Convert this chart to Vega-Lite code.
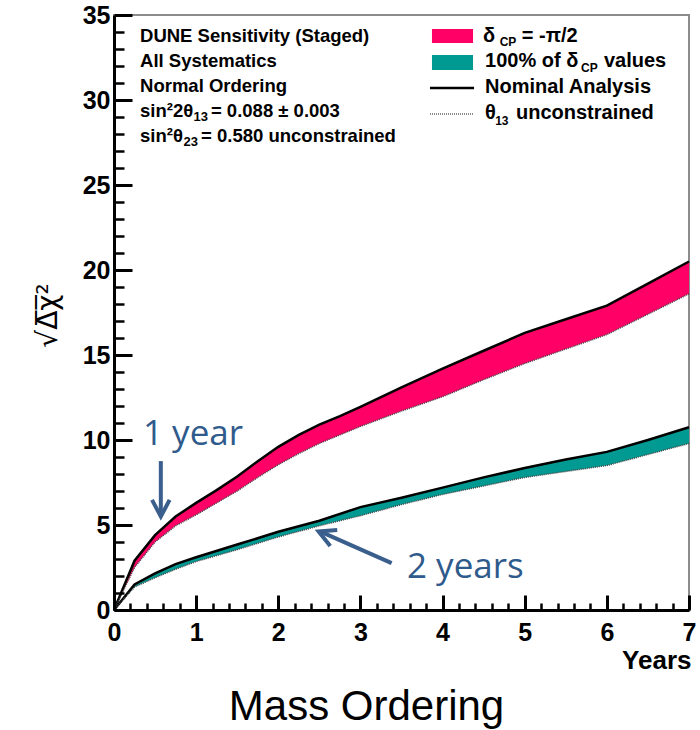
{
  "$schema": "https://vega.github.io/schema/vega-lite/v6.json",
  "width": 575,
  "height": 595,
  "autosize": {"type": "none"},
  "padding": {"left": 114, "top": 15, "right": 11, "bottom": 120},
  "background": "white",
  "config": {
    "view": {"stroke": "#8c8c8c", "strokeWidth": 2},
    "font": "Liberation Sans"
  },
  "title": {
    "text": "Mass Ordering",
    "orient": "bottom",
    "anchor": "middle",
    "dx": -35,
    "fontSize": 42,
    "fontWeight": "normal",
    "font": "Liberation Sans",
    "color": "black",
    "offset": 14
  },
  "datasets": {
    "curves": [
      {"year": 0, "band": "pink", "hi": 0, "lo": 0},
      {"year": 0.25, "band": "pink", "hi": 2.9, "lo": 2.5},
      {"year": 0.5, "band": "pink", "hi": 4.4, "lo": 4.0},
      {"year": 0.75, "band": "pink", "hi": 5.5, "lo": 4.95},
      {"year": 1, "band": "pink", "hi": 6.3, "lo": 5.6},
      {"year": 1.25, "band": "pink", "hi": 7.05, "lo": 6.3},
      {"year": 1.5, "band": "pink", "hi": 7.85, "lo": 7.0},
      {"year": 1.75, "band": "pink", "hi": 8.75, "lo": 7.8},
      {"year": 2, "band": "pink", "hi": 9.6, "lo": 8.55},
      {"year": 2.25, "band": "pink", "hi": 10.3, "lo": 9.2},
      {"year": 2.5, "band": "pink", "hi": 10.9, "lo": 9.8},
      {"year": 2.75, "band": "pink", "hi": 11.4, "lo": 10.3},
      {"year": 3, "band": "pink", "hi": 11.95, "lo": 10.8},
      {"year": 3.5, "band": "pink", "hi": 13.1, "lo": 11.7},
      {"year": 4, "band": "pink", "hi": 14.2, "lo": 12.55},
      {"year": 4.5, "band": "pink", "hi": 15.25, "lo": 13.55},
      {"year": 5, "band": "pink", "hi": 16.3, "lo": 14.5},
      {"year": 5.5, "band": "pink", "hi": 17.1, "lo": 15.35},
      {"year": 6, "band": "pink", "hi": 17.9, "lo": 16.2},
      {"year": 6.5, "band": "pink", "hi": 19.2, "lo": 17.4},
      {"year": 7, "band": "pink", "hi": 20.5, "lo": 18.6},
      {"year": 0, "band": "teal", "hi": 0, "lo": 0},
      {"year": 0.25, "band": "teal", "hi": 1.5, "lo": 1.35},
      {"year": 0.5, "band": "teal", "hi": 2.15, "lo": 1.9},
      {"year": 0.75, "band": "teal", "hi": 2.7, "lo": 2.4},
      {"year": 1, "band": "teal", "hi": 3.1, "lo": 2.85},
      {"year": 1.5, "band": "teal", "hi": 3.85, "lo": 3.55},
      {"year": 2, "band": "teal", "hi": 4.6, "lo": 4.3},
      {"year": 2.5, "band": "teal", "hi": 5.25, "lo": 4.95},
      {"year": 3, "band": "teal", "hi": 6.05, "lo": 5.55},
      {"year": 3.5, "band": "teal", "hi": 6.6, "lo": 6.2},
      {"year": 4, "band": "teal", "hi": 7.2, "lo": 6.8},
      {"year": 4.5, "band": "teal", "hi": 7.8, "lo": 7.3},
      {"year": 5, "band": "teal", "hi": 8.35, "lo": 7.8},
      {"year": 5.5, "band": "teal", "hi": 8.85, "lo": 8.15},
      {"year": 6, "band": "teal", "hi": 9.3, "lo": 8.5},
      {"year": 6.5, "band": "teal", "hi": 10.0, "lo": 9.15},
      {"year": 7, "band": "teal", "hi": 10.75, "lo": 9.8}
    ],
    "legendBoxes": [
      {"x": 3.871, "x2": 4.371, "y": 34.18, "y2": 33.35, "band": "pink"},
      {"x": 3.871, "x2": 4.371, "y": 32.65, "y2": 31.76, "band": "teal"}
    ],
    "legendSolid": [{"x": 3.847, "x2": 4.383, "y": 30.71}],
    "legendDotted": [{"x": 3.847, "x2": 4.383, "y": 29.18}],
    "infoText": [
      {"x": 0.317, "y": 33.43, "text": "DUNE Sensitivity (Staged)"},
      {"x": 0.317, "y": 31.96, "text": "All Systematics"},
      {"x": 0.317, "y": 30.49, "text": "Normal Ordering"},
      {"x": 0.317, "y": 29.02, "text": "sin²2θ"},
      {"x": 1.18, "y": 29.02, "text": "= 0.088 ± 0.003"},
      {"x": 0.317, "y": 27.55, "text": "sin²θ"},
      {"x": 1.06, "y": 27.55, "text": "= 0.580 unconstrained"}
    ],
    "infoSub": [
      {"x": 0.968, "y": 28.75, "text": "13"},
      {"x": 0.846, "y": 27.28, "text": "23"}
    ],
    "legendText": [
      {"x": 4.492, "y": 33.43, "text": "δ"},
      {"x": 4.965, "y": 33.43, "text": "= -π/2"},
      {"x": 4.517, "y": 31.96, "text": "100% of δ"},
      {"x": 5.965, "y": 31.96, "text": "values"},
      {"x": 4.517, "y": 30.39, "text": "Nominal Analysis"},
      {"x": 4.517, "y": 28.88, "text": "θ"},
      {"x": 4.894, "y": 28.88, "text": "unconstrained"}
    ],
    "legendSub": [
      {"x": 4.695, "y": 33.2, "text": "CP"},
      {"x": 5.685, "y": 31.66, "text": "CP"},
      {"x": 4.64, "y": 28.55, "text": "13"}
    ],
    "notes": [
      {"x": 0.353, "y": 9.71, "text": "1 year"},
      {"x": 3.567, "y": 1.88, "text": "2 years"}
    ],
    "shafts": [
      {"x": 0.57, "y": 8.76, "x2": 0.57, "y2": 5.55},
      {"x": 3.38, "y": 2.76, "x2": 2.52, "y2": 4.6}
    ],
    "headDown": [{"x": 0.57, "y": 5.5}],
    "headSlant": [{"x": 2.49, "y": 4.62}]
  },
  "resolve": {"axis": {"x": "independent", "y": "independent"}},
  "layer": [
    {
      "data": {"name": "curves"},
      "mark": {"type": "area", "opacity": 1},
      "encoding": {
        "x": {
          "field": "year", "type": "quantitative",
          "scale": {"domain": [0, 7], "nice": false, "zero": false},
          "axis": {
            "values": [0, 1, 2, 3, 4, 5, 6, 7],
            "grid": false, "zindex": 2, "ticks": false,
            "domainColor": "black", "domainWidth": 3,
            "labelFontSize": 25, "labelFontWeight": "bold", "labelColor": "black",
            "labelFont": "Liberation Sans", "labelPadding": 10, "labelFlush": false,
            "title": "Years", "titleFontSize": 26, "titleFontWeight": "bold",
            "titleFont": "Liberation Sans", "titleColor": "black",
            "titleAlign": "right", "titleAnchor": "end", "titleBaseline": "alphabetic",
            "titleX": 577, "titleY": 58
          }
        },
        "y": {
          "field": "hi", "type": "quantitative",
          "scale": {"domain": [0, 35], "nice": false, "zero": false},
          "axis": {
            "values": [0, 5, 10, 15, 20, 25, 30, 35],
            "grid": false, "zindex": 2, "ticks": false,
            "domainColor": "black", "domainWidth": 3,
            "labelFontSize": 25, "labelFontWeight": "bold", "labelColor": "black",
            "labelFont": "Liberation Sans", "labelPadding": 4, "labelFlush": false,
            "title": "√Δ̅χ̅²", "titleFontSize": 28, "titleFontWeight": "normal",
            "titleFont": "DejaVu Sans", "titleColor": "black",
            "titleAngle": -90, "titleAlign": "center", "titleBaseline": "middle",
            "titleX": -66, "titleY": 300
          }
        },
        "y2": {"field": "lo"},
        "color": {
          "field": "band", "type": "nominal",
          "scale": {"domain": ["pink", "teal"], "range": ["#ff0066", "#009a93"]},
          "legend": null
        }
      }
    },
    {
      "data": {"name": "curves"},
      "mark": {"type": "line", "color": "black", "strokeWidth": 2.5},
      "encoding": {
        "x": {
          "field": "year", "type": "quantitative",
          "axis": {
            "orient": "bottom", "offset": -15,
            "values": [0, 1, 2, 3, 4, 5, 6, 7],
            "labels": false, "domain": false, "grid": false, "title": null, "zindex": 2,
            "tickColor": "black", "tickWidth": 3, "tickSize": 15
          }
        },
        "y": {
          "field": "hi", "type": "quantitative",
          "axis": {
            "orient": "left", "offset": -18,
            "values": [0, 5, 10, 15, 20, 25, 30, 35],
            "labels": false, "domain": false, "grid": false, "title": null, "zindex": 2,
            "tickColor": "black", "tickWidth": 3, "tickSize": 18
          }
        },
        "detail": {"field": "band"}
      }
    },
    {
      "data": {"name": "curves"},
      "mark": {"type": "line", "color": "#444444", "strokeWidth": 1.5, "strokeDash": [1, 1]},
      "encoding": {
        "x": {
          "field": "year", "type": "quantitative",
          "axis": {
            "orient": "bottom", "offset": -7,
            "values": [0.2, 0.4, 0.6, 0.8, 1.2, 1.4, 1.6, 1.8, 2.2, 2.4, 2.6, 2.8, 3.2, 3.4, 3.6, 3.8, 4.2, 4.4, 4.6, 4.8, 5.2, 5.4, 5.6, 5.8, 6.2, 6.4, 6.6, 6.8],
            "labels": false, "domain": false, "grid": false, "title": null, "zindex": 2,
            "tickColor": "black", "tickWidth": 2.5, "tickSize": 7
          }
        },
        "y": {
          "field": "lo", "type": "quantitative",
          "axis": {
            "orient": "left", "offset": -10,
            "values": [1, 2, 3, 4, 6, 7, 8, 9, 11, 12, 13, 14, 16, 17, 18, 19, 21, 22, 23, 24, 26, 27, 28, 29, 31, 32, 33, 34],
            "labels": false, "domain": false, "grid": false, "title": null, "zindex": 2,
            "tickColor": "black", "tickWidth": 2.5, "tickSize": 10
          }
        },
        "detail": {"field": "band"}
      }
    },
    {
      "mark": {"type": "rule", "color": "black", "strokeWidth": 2, "strokeDash": [2, 3]},
      "encoding": {
        "x": {"datum": 0, "type": "quantitative", "axis": null},
        "x2": {"datum": 7},
        "y": {"datum": 5, "type": "quantitative", "axis": null}
      }
    },
    {
      "data": {"name": "legendBoxes"},
      "mark": {"type": "rect"},
      "encoding": {
        "x": {"field": "x", "type": "quantitative", "axis": null},
        "x2": {"field": "x2"},
        "y": {"field": "y", "type": "quantitative", "axis": null},
        "y2": {"field": "y2"},
        "color": {"field": "band", "type": "nominal", "legend": null}
      }
    },
    {
      "data": {"name": "legendSolid"},
      "mark": {"type": "rule", "color": "black", "strokeWidth": 2.5},
      "encoding": {
        "x": {"field": "x", "type": "quantitative", "axis": null},
        "x2": {"field": "x2"},
        "y": {"field": "y", "type": "quantitative", "axis": null}
      }
    },
    {
      "data": {"name": "legendDotted"},
      "mark": {"type": "rule", "color": "#666666", "strokeWidth": 1.5, "strokeDash": [1, 1]},
      "encoding": {
        "x": {"field": "x", "type": "quantitative", "axis": null},
        "x2": {"field": "x2"},
        "y": {"field": "y", "type": "quantitative", "axis": null}
      }
    },
    {
      "data": {"name": "infoText"},
      "mark": {"type": "text", "align": "left", "baseline": "alphabetic", "fontSize": 18.5, "fontWeight": "bold", "font": "Liberation Sans", "color": "black"},
      "encoding": {
        "x": {"field": "x", "type": "quantitative", "axis": null},
        "y": {"field": "y", "type": "quantitative", "axis": null},
        "text": {"field": "text"}
      }
    },
    {
      "data": {"name": "infoSub"},
      "mark": {"type": "text", "align": "left", "baseline": "alphabetic", "fontSize": 13, "fontWeight": "bold", "font": "Liberation Sans", "color": "black"},
      "encoding": {
        "x": {"field": "x", "type": "quantitative", "axis": null},
        "y": {"field": "y", "type": "quantitative", "axis": null},
        "text": {"field": "text"}
      }
    },
    {
      "data": {"name": "legendText"},
      "mark": {"type": "text", "align": "left", "baseline": "alphabetic", "fontSize": 20, "fontWeight": "bold", "font": "Liberation Sans", "color": "black"},
      "encoding": {
        "x": {"field": "x", "type": "quantitative", "axis": null},
        "y": {"field": "y", "type": "quantitative", "axis": null},
        "text": {"field": "text"}
      }
    },
    {
      "data": {"name": "legendSub"},
      "mark": {"type": "text", "align": "left", "baseline": "alphabetic", "fontSize": 12, "fontWeight": "bold", "font": "Liberation Sans", "color": "black"},
      "encoding": {
        "x": {"field": "x", "type": "quantitative", "axis": null},
        "y": {"field": "y", "type": "quantitative", "axis": null},
        "text": {"field": "text"}
      }
    },
    {
      "data": {"name": "shafts"},
      "mark": {"type": "rule", "color": "#3a5f8d", "strokeWidth": 4},
      "encoding": {
        "x": {"field": "x", "type": "quantitative", "axis": null},
        "x2": {"field": "x2"},
        "y": {"field": "y", "type": "quantitative", "axis": null},
        "y2": {"field": "y2"}
      }
    },
    {
      "data": {"name": "headDown"},
      "mark": {"type": "point", "shape": "M-0.53,-1L0,0L0.53,-1", "size": 1100, "filled": false, "stroke": "#3a5f8d", "strokeWidth": 4, "opacity": 1},
      "encoding": {
        "x": {"field": "x", "type": "quantitative", "axis": null},
        "y": {"field": "y", "type": "quantitative", "axis": null}
      }
    },
    {
      "data": {"name": "headSlant"},
      "mark": {"type": "point", "shape": "M-0.53,-1L0,0L0.53,-1", "size": 1100, "filled": false, "stroke": "#3a5f8d", "strokeWidth": 4, "opacity": 1, "angle": 113.4},
      "encoding": {
        "x": {"field": "x", "type": "quantitative", "axis": null},
        "y": {"field": "y", "type": "quantitative", "axis": null}
      }
    },
    {
      "data": {"name": "notes"},
      "mark": {"type": "text", "align": "left", "baseline": "alphabetic", "fontSize": 35, "font": "Open Sans", "color": "#2f5a8c"},
      "encoding": {
        "x": {"field": "x", "type": "quantitative", "axis": null},
        "y": {"field": "y", "type": "quantitative", "axis": null},
        "text": {"field": "text"}
      }
    }
  ]
}
